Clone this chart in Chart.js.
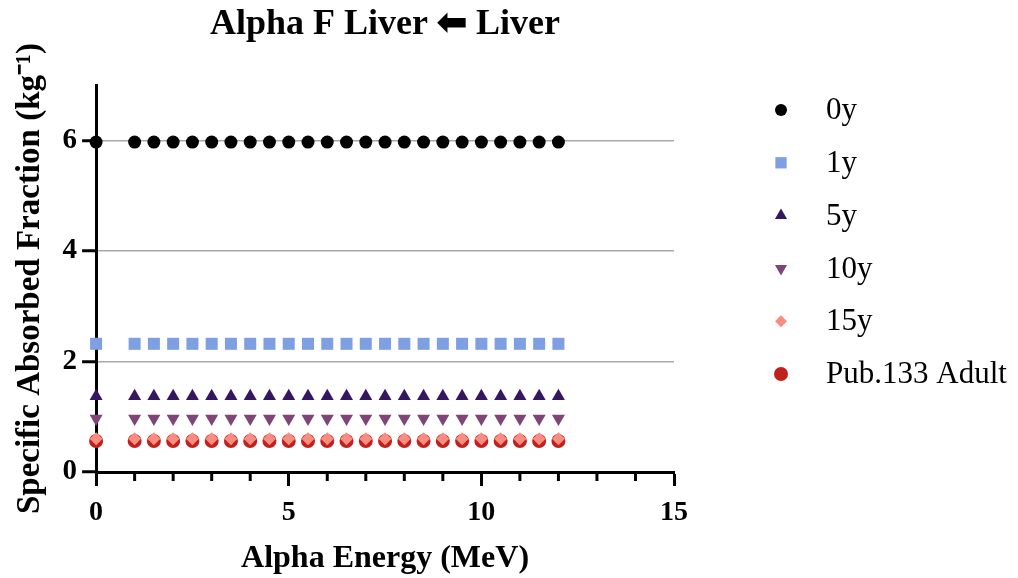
<!DOCTYPE html>
<html>
<head>
<meta charset="utf-8">
<script src="https://cdn.jsdelivr.net/npm/chart.js@4.4.1/dist/chart.umd.min.js"></script>
<style>
  html, body { margin: 0; padding: 0; background: #fff; }
</style>
</head>
<body>
<canvas id="safChart" width="1018" height="578"></canvas>
<script>
// energies (MeV) and SAF values (kg^-1)
const energy = [0, 1, 1.5, 2, 2.5, 3, 3.5, 4, 4.5, 5, 5.5, 6, 6.5, 7, 7.5, 8, 8.5, 9, 9.5, 10, 10.5, 11, 11.5, 12];
const saf0y  = [5.97, 5.97, 5.97, 5.97, 5.97, 5.97, 5.97, 5.97, 5.97, 5.97, 5.97, 5.97, 5.97, 5.97, 5.97, 5.97, 5.97, 5.97, 5.97, 5.97, 5.97, 5.97, 5.97, 5.97];
const saf1y  = [2.32, 2.32, 2.32, 2.32, 2.32, 2.32, 2.32, 2.32, 2.32, 2.32, 2.32, 2.32, 2.32, 2.32, 2.32, 2.32, 2.32, 2.32, 2.32, 2.32, 2.32, 2.32, 2.32, 2.32];
const saf5y  = [1.37, 1.37, 1.37, 1.37, 1.37, 1.37, 1.37, 1.37, 1.37, 1.37, 1.37, 1.37, 1.37, 1.37, 1.37, 1.37, 1.37, 1.37, 1.37, 1.37, 1.37, 1.37, 1.37, 1.37];
const saf10y = [0.97, 0.97, 0.97, 0.97, 0.97, 0.97, 0.97, 0.97, 0.97, 0.97, 0.97, 0.97, 0.97, 0.97, 0.97, 0.97, 0.97, 0.97, 0.97, 0.97, 0.97, 0.97, 0.97, 0.97];
const saf15y = [0.60, 0.60, 0.60, 0.60, 0.60, 0.60, 0.60, 0.60, 0.60, 0.60, 0.60, 0.60, 0.60, 0.60, 0.60, 0.60, 0.60, 0.60, 0.60, 0.60, 0.60, 0.60, 0.60, 0.60];
const safPub = [0.56, 0.56, 0.56, 0.56, 0.56, 0.56, 0.56, 0.56, 0.56, 0.56, 0.56, 0.56, 0.56, 0.56, 0.56, 0.56, 0.56, 0.56, 0.56, 0.56, 0.56, 0.56, 0.56, 0.56];
const xMinorTicks = [1, 2, 3, 4, 6, 7, 8, 9, 11, 12, 13, 14];

const serif = "'Liberation Serif', 'Times New Roman', serif";
Chart.defaults.font.family = serif;
Chart.defaults.color = '#000';

const pts = ys => energy.map((x, i) => ({ x: x, y: ys[i] }));

function series(label, ys, color, style, radius, legendRadius, rotation) {
    return {
        label: label,
        data: pts(ys),
        backgroundColor: color,
        borderColor: color,
        borderWidth: 0,
        pointStyle: style,
        pointRadius: radius,
        pointHoverRadius: radius,
        pointRotation: rotation || 0,
        legendRadius: legendRadius,
        clip: false
    };
}

// small ticks between the labelled ones on the x axis
const minorTicks = {
    id: 'minorTicks',
    beforeDatasetsDraw(chart) {
        const sx = chart.scales.x;
        const ctx = chart.ctx;
        ctx.save();
        ctx.strokeStyle = '#000';
        ctx.lineWidth = 3;
        xMinorTicks.forEach(v => {
            const px = sx.getPixelForValue(v);
            ctx.beginPath();
            ctx.moveTo(px, sx.top);
            ctx.lineTo(px, sx.top + 9);
            ctx.stroke();
        });
        ctx.restore();
    }
};

// legend on the right, one row per series
const sideLegend = {
    id: 'sideLegend',
    afterDraw(chart) {
        const ctx = chart.ctx;
        ctx.save();
        chart.data.datasets.forEach((ds, i) => {
            const y = 110 + i * 52.8;
            ctx.fillStyle = ds.backgroundColor;
            ctx.strokeStyle = ds.borderColor;
            Chart.helpers.drawPoint(ctx, {
                pointStyle: ds.pointStyle,
                radius: ds.legendRadius,
                rotation: ds.pointRotation,
                borderWidth: 0
            }, 781, y);
            ctx.fillStyle = '#000';
            ctx.font = '31px ' + serif;
            ctx.textBaseline = 'middle';
            ctx.textAlign = 'left';
            ctx.fillText(ds.label, 826, y + 1);
        });
        ctx.restore();
    }
};

new Chart(document.getElementById('safChart'), {
    type: 'scatter',
    data: {
        datasets: [
            series('0y', saf0y, '#000000', 'circle', 6.5, 6, 0),
            series('1y', saf1y, '#7f9fe3', 'rect', 8.5, 8, 0),
            series('5y', saf5y, '#35175f', 'triangle', 7.5, 7, 0),
            series('10y', saf10y, '#7e4576', 'triangle', 7.5, 7, 180),
            series('15y', saf15y, '#fa8d82', 'rectRot', 6.5, 6, 0),
            series('Pub.133 Adult', safPub, '#c0211c', 'circle', 7, 7, 0)
        ]
    },
    options: {
        responsive: false,
        animation: false,
        layout: { padding: { left: 11, right: 344, top: 0, bottom: 0 } },
        plugins: {
            legend: { display: false },
            tooltip: { enabled: false },
            title: {
                display: true,
                fullSize: false,
                text: 'Alpha F Liver \u2B05 Liver',
                font: { size: 36, weight: 'bold' },
                color: '#000',
                padding: { top: 3, bottom: 39 }
            }
        },
        scales: {
            x: {
                type: 'linear',
                min: 0,
                max: 15,
                border: { display: true, color: '#000', width: 3 },
                grid: {
                    drawOnChartArea: false,
                    drawTicks: true,
                    tickLength: 14,
                    tickColor: '#000',
                    tickWidth: 3
                },
                ticks: {
                    stepSize: 5,
                    padding: 10,
                    font: { size: 28, weight: 'bold' },
                    color: '#000',
                    maxRotation: 0
                },
                title: {
                    display: true,
                    text: 'Alpha Energy (MeV)',
                    font: { size: 32, weight: 'bold' },
                    color: '#000',
                    padding: { top: 0, bottom: 0 }
                }
            },
            y: {
                type: 'linear',
                min: 0,
                max: 7,
                border: { display: true, color: '#000', width: 3 },
                grid: {
                    color: c => c.tick && c.tick.value === 0 ? 'rgba(0,0,0,0)' : '#a9a9a9',
                    lineWidth: 1.5,
                    drawTicks: true,
                    tickLength: 14,
                    tickColor: '#000',
                    tickWidth: 3
                },
                ticks: {
                    stepSize: 2,
                    includeBounds: false,
                    padding: 5,
                    font: { size: 29, weight: 'bold' },
                    color: '#000'
                },
                title: {
                    display: true,
                    text: 'Specific Absorbed Fraction (kg\u207B\u00B9)',
                    font: { size: 33, weight: 'bold' },
                    color: '#000',
                    padding: { top: 0, bottom: 7 }
                }
            }
        }
    },
    plugins: [minorTicks, sideLegend]
});
</script>
</body>
</html>
